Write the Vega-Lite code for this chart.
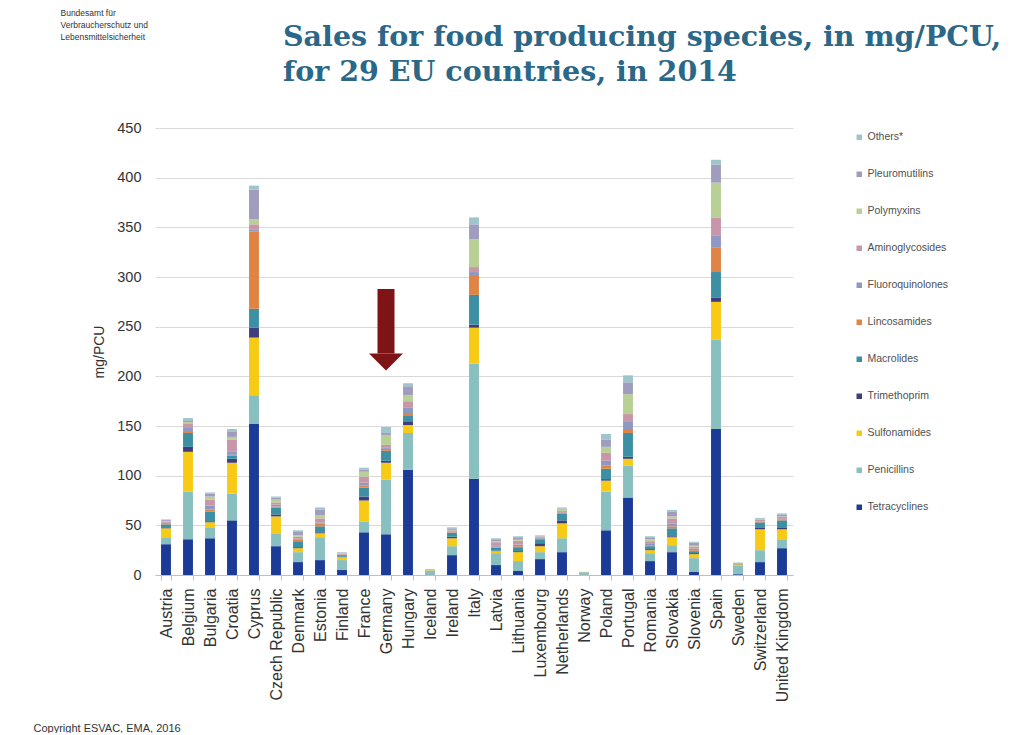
{
  "$schema": "https://vega.github.io/schema/vega-lite/v6.json",
  "width": 638,
  "height": 447,
  "padding": {"left": 33, "top": 8, "right": 5, "bottom": 0},
  "background": "white",
  "title": {
    "text": ["Sales for food producing species, in mg/PCU,", "for 29 EU countries, in 2014"],
    "anchor": "start",
    "frame": "group",
    "dx": 128,
    "dy": 78,
    "offset": 0,
    "font": "DejaVu Serif",
    "fontSize": 28.5,
    "fontWeight": "bold",
    "color": "#2B6787",
    "lineHeight": 35
  },
  "config": {"view": {"stroke": null}, "font": "Liberation Sans"},
  "resolve": {"axis": {"x": "independent", "y": "independent"}},
  "layer": [
    {
      "data": {
        "values": [
          {"country": "Austria", "Tetracyclines": 31, "Penicillins": 7, "Sulfonamides": 9, "Trimethoprim": 1, "Macrolides": 3, "Lincosamides": 0.5, "Fluoroquinolones": 1, "Aminoglycosides": 1, "Polymyxins": 1, "Pleuromutilins": 1, "Others*": 0.5},
          {"country": "Belgium", "Tetracyclines": 36, "Penicillins": 48, "Sulfonamides": 40, "Trimethoprim": 5, "Macrolides": 14, "Lincosamides": 2, "Fluoroquinolones": 3, "Aminoglycosides": 4, "Polymyxins": 2, "Pleuromutilins": 1, "Others*": 3},
          {"country": "Bulgaria", "Tetracyclines": 37, "Penicillins": 11, "Sulfonamides": 5, "Trimethoprim": 1, "Macrolides": 10, "Lincosamides": 2, "Fluoroquinolones": 4, "Aminoglycosides": 6, "Polymyxins": 3, "Pleuromutilins": 3, "Others*": 1},
          {"country": "Croatia", "Tetracyclines": 55, "Penicillins": 27, "Sulfonamides": 31, "Trimethoprim": 4, "Macrolides": 3, "Lincosamides": 1, "Fluoroquinolones": 3, "Aminoglycosides": 12, "Polymyxins": 3, "Pleuromutilins": 5, "Others*": 3},
          {"country": "Cyprus", "Tetracyclines": 152, "Penicillins": 29, "Sulfonamides": 58, "Trimethoprim": 10, "Macrolides": 19, "Lincosamides": 78, "Fluoroquinolones": 2, "Aminoglycosides": 5, "Polymyxins": 5, "Pleuromutilins": 30, "Others*": 4},
          {"country": "Czech Republic", "Tetracyclines": 29, "Penicillins": 13, "Sulfonamides": 17, "Trimethoprim": 2, "Macrolides": 7, "Lincosamides": 1, "Fluoroquinolones": 2, "Aminoglycosides": 2, "Polymyxins": 3, "Pleuromutilins": 2, "Others*": 1},
          {"country": "Denmark", "Tetracyclines": 13, "Penicillins": 10, "Sulfonamides": 4, "Trimethoprim": 1, "Macrolides": 6, "Lincosamides": 2, "Fluoroquinolones": 0.5, "Aminoglycosides": 2, "Polymyxins": 1.5, "Pleuromutilins": 4, "Others*": 1},
          {"country": "Estonia", "Tetracyclines": 15, "Penicillins": 23, "Sulfonamides": 4, "Trimethoprim": 1, "Macrolides": 6, "Lincosamides": 3, "Fluoroquinolones": 1, "Aminoglycosides": 4, "Polymyxins": 3, "Pleuromutilins": 6, "Others*": 2},
          {"country": "Finland", "Tetracyclines": 5, "Penicillins": 10, "Sulfonamides": 3, "Trimethoprim": 0.5, "Macrolides": 1.5, "Lincosamides": 0.5, "Fluoroquinolones": 0.3, "Aminoglycosides": 0.7, "Polymyxins": 0.5, "Pleuromutilins": 0.5, "Others*": 0.5},
          {"country": "France", "Tetracyclines": 43, "Penicillins": 11, "Sulfonamides": 21, "Trimethoprim": 4, "Macrolides": 9, "Lincosamides": 2, "Fluoroquinolones": 3, "Aminoglycosides": 6, "Polymyxins": 5, "Pleuromutilins": 2, "Others*": 2},
          {"country": "Germany", "Tetracyclines": 41, "Penicillins": 55, "Sulfonamides": 17, "Trimethoprim": 2, "Macrolides": 10, "Lincosamides": 2, "Fluoroquinolones": 1, "Aminoglycosides": 3, "Polymyxins": 10, "Pleuromutilins": 2, "Others*": 6},
          {"country": "Hungary", "Tetracyclines": 106, "Penicillins": 37, "Sulfonamides": 8, "Trimethoprim": 3, "Macrolides": 6, "Lincosamides": 3, "Fluoroquinolones": 6, "Aminoglycosides": 6, "Polymyxins": 6, "Pleuromutilins": 9, "Others*": 3},
          {"country": "Iceland", "Tetracyclines": 0.4, "Penicillins": 4.2, "Sulfonamides": 0.4, "Trimethoprim": 0.1, "Macrolides": 0.2, "Lincosamides": 0.1, "Fluoroquinolones": 0, "Aminoglycosides": 0.3, "Polymyxins": 0, "Pleuromutilins": 0, "Others*": 0.1},
          {"country": "Ireland", "Tetracyclines": 20, "Penicillins": 9, "Sulfonamides": 8, "Trimethoprim": 1.5, "Macrolides": 4, "Lincosamides": 0.5, "Fluoroquinolones": 0.5, "Aminoglycosides": 1.5, "Polymyxins": 0.5, "Pleuromutilins": 1.5, "Others*": 1},
          {"country": "Italy", "Tetracyclines": 97, "Penicillins": 116, "Sulfonamides": 36, "Trimethoprim": 3, "Macrolides": 30, "Lincosamides": 20, "Fluoroquinolones": 3, "Aminoglycosides": 5, "Polymyxins": 28, "Pleuromutilins": 15, "Others*": 7},
          {"country": "Latvia", "Tetracyclines": 10, "Penicillins": 12, "Sulfonamides": 2, "Trimethoprim": 0.5, "Macrolides": 3, "Lincosamides": 1, "Fluoroquinolones": 1.5, "Aminoglycosides": 3, "Polymyxins": 1, "Pleuromutilins": 2, "Others*": 1},
          {"country": "Lithuania", "Tetracyclines": 4, "Penicillins": 10, "Sulfonamides": 9, "Trimethoprim": 1, "Macrolides": 4, "Lincosamides": 1, "Fluoroquinolones": 1.5, "Aminoglycosides": 4, "Polymyxins": 1, "Pleuromutilins": 2.5, "Others*": 1},
          {"country": "Luxembourg", "Tetracyclines": 16, "Penicillins": 7, "Sulfonamides": 6, "Trimethoprim": 3, "Macrolides": 4, "Lincosamides": 0.5, "Fluoroquinolones": 1, "Aminoglycosides": 1, "Polymyxins": 0.5, "Pleuromutilins": 0.5, "Others*": 0.5},
          {"country": "Netherlands", "Tetracyclines": 23, "Penicillins": 14, "Sulfonamides": 15, "Trimethoprim": 3, "Macrolides": 7, "Lincosamides": 1, "Fluoroquinolones": 0.5, "Aminoglycosides": 1, "Polymyxins": 2, "Pleuromutilins": 0.5, "Others*": 1},
          {"country": "Norway", "Tetracyclines": 0.1, "Penicillins": 2.5, "Sulfonamides": 0.2, "Trimethoprim": 0.05, "Macrolides": 0.05, "Lincosamides": 0, "Fluoroquinolones": 0, "Aminoglycosides": 0.2, "Polymyxins": 0, "Pleuromutilins": 0, "Others*": 0.1},
          {"country": "Poland", "Tetracyclines": 45, "Penicillins": 39, "Sulfonamides": 11, "Trimethoprim": 1.5, "Macrolides": 10.5, "Lincosamides": 3, "Fluoroquinolones": 5, "Aminoglycosides": 8, "Polymyxins": 6, "Pleuromutilins": 7, "Others*": 6},
          {"country": "Portugal", "Tetracyclines": 78, "Penicillins": 32, "Sulfonamides": 7, "Trimethoprim": 2, "Macrolides": 24, "Lincosamides": 4, "Fluoroquinolones": 7, "Aminoglycosides": 8, "Polymyxins": 20, "Pleuromutilins": 12, "Others*": 7},
          {"country": "Romania", "Tetracyclines": 14, "Penicillins": 8, "Sulfonamides": 3, "Trimethoprim": 1, "Macrolides": 3, "Lincosamides": 1, "Fluoroquinolones": 2, "Aminoglycosides": 2, "Polymyxins": 2, "Pleuromutilins": 2, "Others*": 1},
          {"country": "Slovakia", "Tetracyclines": 23, "Penicillins": 7, "Sulfonamides": 8, "Trimethoprim": 1, "Macrolides": 8, "Lincosamides": 2, "Fluoroquinolones": 3, "Aminoglycosides": 5, "Polymyxins": 2, "Pleuromutilins": 5, "Others*": 1.5},
          {"country": "Slovenia", "Tetracyclines": 3, "Penicillins": 14, "Sulfonamides": 4, "Trimethoprim": 1, "Macrolides": 2, "Lincosamides": 1, "Fluoroquinolones": 1.5, "Aminoglycosides": 2, "Polymyxins": 1, "Pleuromutilins": 3, "Others*": 1},
          {"country": "Spain", "Tetracyclines": 147, "Penicillins": 90, "Sulfonamides": 38, "Trimethoprim": 4, "Macrolides": 26, "Lincosamides": 25, "Fluoroquinolones": 12, "Aminoglycosides": 18, "Polymyxins": 35, "Pleuromutilins": 18, "Others*": 5},
          {"country": "Sweden", "Tetracyclines": 0.8, "Penicillins": 9, "Sulfonamides": 1, "Trimethoprim": 0.2, "Macrolides": 0.3, "Lincosamides": 0.3, "Fluoroquinolones": 0.1, "Aminoglycosides": 0.3, "Polymyxins": 0, "Pleuromutilins": 0.2, "Others*": 0.3},
          {"country": "Switzerland", "Tetracyclines": 13, "Penicillins": 12, "Sulfonamides": 21, "Trimethoprim": 2, "Macrolides": 5, "Lincosamides": 0.5, "Fluoroquinolones": 0.5, "Aminoglycosides": 1.5, "Polymyxins": 0.5, "Pleuromutilins": 0.5, "Others*": 1},
          {"country": "United Kingdom", "Tetracyclines": 27, "Penicillins": 9, "Sulfonamides": 10, "Trimethoprim": 2, "Macrolides": 7, "Lincosamides": 1, "Fluoroquinolones": 0.5, "Aminoglycosides": 2, "Polymyxins": 0.5, "Pleuromutilins": 2, "Others*": 1}
        ]
      },
      "transform": [
        {"fold": ["Tetracyclines", "Penicillins", "Sulfonamides", "Trimethoprim", "Macrolides", "Lincosamides", "Fluoroquinolones", "Aminoglycosides", "Polymyxins", "Pleuromutilins", "Others*"], "as": ["class", "mgPCU"]},
        {"window": [{"op": "row_number", "as": "stackRank"}], "groupby": ["country"]}
      ],
      "mark": {"type": "bar"},
      "encoding": {
        "x": {
          "field": "country",
          "type": "nominal",
          "scale": {"paddingInner": 0.55, "paddingOuter": 0.275},
          "axis": {
            "title": "Copyright ESVAC, EMA, 2016",
            "titleX": -122,
            "titleY": 153,
            "titleAlign": "left",
            "titleBaseline": "middle",
            "titleFontSize": 11,
            "titleFontWeight": "normal",
            "titleColor": "#333333",
            "labelAngle": -90,
            "labelFontSize": 16,
            "labelColor": "#333333",
            "labelPadding": 8,
            "tickBand": "extent",
            "tickColor": "#BFBFBF",
            "tickSize": 5,
            "domainColor": "#BFBFBF",
            "grid": false
          }
        },
        "y": {
          "field": "mgPCU",
          "type": "quantitative",
          "stack": "zero",
          "scale": {"domain": [0, 450]},
          "axis": {
            "title": "mg/PCU",
            "values": [0, 50, 100, 150, 200, 250, 300, 350, 400, 450],
            "grid": true,
            "gridColor": "#D9D9D9",
            "domain": false,
            "ticks": false,
            "labelFontSize": 14.5,
            "labelColor": "#333333",
            "labelPadding": 14,
            "titleFontSize": 14,
            "titleFontWeight": "normal",
            "titleColor": "#333333",
            "titlePadding": 10
          }
        },
        "order": {"field": "stackRank", "type": "quantitative", "sort": "ascending"},
        "color": {
          "field": "class",
          "type": "nominal",
          "sort": ["Others*", "Pleuromutilins", "Polymyxins", "Aminoglycosides", "Fluoroquinolones", "Lincosamides", "Macrolides", "Trimethoprim", "Sulfonamides", "Penicillins", "Tetracyclines"],
          "scale": {
            "domain": ["Others*", "Pleuromutilins", "Polymyxins", "Aminoglycosides", "Fluoroquinolones", "Lincosamides", "Macrolides", "Trimethoprim", "Sulfonamides", "Penicillins", "Tetracyclines"],
            "range": ["#9FC5CC", "#A09CBE", "#B8CF96", "#C896A8", "#8E98C4", "#E08445", "#3D8FA3", "#3F3D7E", "#F7CB15", "#88BFBF", "#1C3B97"]
          },
          "legend": {
            "orient": "none",
            "legendX": 699,
            "legendY": 4,
            "title": null,
            "padding": 0,
            "symbolType": "square",
            "symbolSize": 30,
            "symbolStrokeWidth": 0,
            "labelFontSize": 10.5,
            "labelColor": "#505050",
            "labelOffset": 3,
            "rowPadding": 26
          }
        }
      }
    },
    {
      "data": {"values": [{"country": "Germany", "arrowTop": 288, "arrowBase": 223}]},
      "mark": {"type": "bar", "width": 17, "color": "#7F1416"},
      "encoding": {
        "x": {
          "field": "country",
          "type": "nominal",
          "axis": {
            "orient": "top",
            "labels": false,
            "ticks": false,
            "domain": false,
            "grid": false,
            "title": ["Bundesamt für", "Verbraucherschutz und", "Lebensmittelsicherheit"],
            "titleX": -95,
            "titleY": -120,
            "titleAlign": "left",
            "titleBaseline": "top",
            "titleAngle": 0,
            "titleFontSize": 8.5,
            "titleFontWeight": "normal",
            "titleColor": "#333333",
            "titleLineHeight": 12
          }
        },
        "y": {"field": "arrowTop", "type": "quantitative", "axis": null},
        "y2": {"field": "arrowBase"}
      }
    },
    {
      "data": {"values": [{"country": "Germany", "arrowBase": 223}]},
      "mark": {"type": "point", "shape": "M-1,0L1,0L0,1Z", "filled": true, "size": 1156, "color": "#7F1416", "opacity": 1},
      "encoding": {
        "x": {"field": "country", "type": "nominal", "axis": null},
        "y": {"field": "arrowBase", "type": "quantitative", "axis": null}
      }
    }
  ]
}
